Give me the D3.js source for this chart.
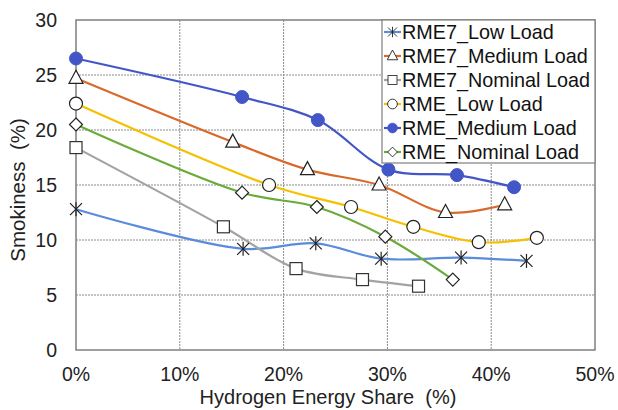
<!DOCTYPE html>
<html>
  <head>
    <meta charset="utf-8"/>
    <style>
body {
  margin: 0;
  background: #fff;
}
svg {
  font-family: "Liberation Sans", Arial, sans-serif;
}
    </style>
  </head>
  <body>
    <svg id="chart" width="618" height="410"></svg>
    <script src="https://cdnjs.cloudflare.com/ajax/libs/d3/7.8.5/d3.min.js"></script>
    <script>
// hydrogen share (%) / smokiness (%) per series
const rme7LowX = [0, 16.1, 23.1, 29.4, 37.1, 43.4];
const rme7LowY = [12.8, 9.2, 9.7, 8.3, 8.4, 8.1];
const rme7MedX = [0, 15.1, 22.3, 29.2, 35.6, 41.3];
const rme7MedY = [24.7, 18.9, 16.4, 15.0, 12.5, 13.2];
const rme7NomX = [0, 14.2, 21.2, 27.6, 33.0];
const rme7NomY = [18.4, 11.2, 7.4, 6.4, 5.8];
const rmeLowX = [0, 18.6, 26.5, 32.5, 38.8, 44.4];
const rmeLowY = [22.4, 15.0, 13.0, 11.2, 9.8, 10.2];
const rmeMedX = [0, 16.0, 23.3, 30.1, 36.7, 42.2];
const rmeMedY = [26.5, 23.0, 20.9, 16.4, 15.9, 14.8];
const rmeNomX = [0, 16.0, 23.2, 29.8, 36.3];
const rmeNomY = [20.5, 14.3, 13.0, 10.3, 6.4];

const xTicks = [0, 10, 20, 30, 40, 50];
const yTicks = [0, 5, 10, 15, 20, 25, 30];

const series = [
  { name: "RME7_Low Load", xs: rme7LowX, ys: rme7LowY, color: "#5b8bdb", marker: "star" },
  { name: "RME7_Medium Load", xs: rme7MedX, ys: rme7MedY, color: "#d9692b", marker: "triangle" },
  { name: "RME7_Nominal Load", xs: rme7NomX, ys: rme7NomY, color: "#a3a3a3", marker: "square" },
  { name: "RME_Low Load", xs: rmeLowX, ys: rmeLowY, color: "#f5c000", marker: "circle" },
  { name: "RME_Medium Load", xs: rmeMedX, ys: rmeMedY, color: "#4356c8", marker: "dot" },
  { name: "RME_Nominal Load", xs: rmeNomX, ys: rmeNomY, color: "#6aab3b", marker: "diamond" }
];

const svg = d3.select("#chart");
const pLeft = 76, pRight = 595, pTop = 20, pBottom = 350;

const x = d3.scaleLinear().domain([0, 50]).range([pLeft, pRight]);
const y = d3.scaleLinear().domain([0, 30]).range([pBottom, pTop]);

// grid
svg.append("g")
  .selectAll("line")
  .data(yTicks.slice(1, -1))
  .join("line")
    .attr("x1", pLeft).attr("x2", pRight)
    .attr("y1", d => y(d)).attr("y2", d => y(d))
    .attr("stroke", "#8a8a8a")
    .attr("stroke-width", 1)
    .attr("stroke-dasharray", "2,1");
svg.append("g")
  .selectAll("line")
  .data(xTicks.slice(1, -1))
  .join("line")
    .attr("x1", d => x(d)).attr("x2", d => x(d))
    .attr("y1", pTop).attr("y2", pBottom)
    .attr("stroke", "#8a8a8a")
    .attr("stroke-width", 1)
    .attr("stroke-dasharray", "2,1");

svg.append("rect")
  .attr("x", pLeft).attr("y", pTop)
  .attr("width", pRight - pLeft).attr("height", pBottom - pTop)
  .attr("fill", "none")
  .attr("stroke", "#7f7f7f")
  .attr("stroke-width", 1.5);

// tick labels
svg.append("g")
  .selectAll("text")
  .data(yTicks)
  .join("text")
    .attr("x", 57)
    .attr("y", d => y(d) + 7)
    .attr("text-anchor", "end")
    .attr("font-size", 19.5)
    .attr("fill", "#222")
    .text(d => d);
svg.append("g")
  .selectAll("text")
  .data(xTicks)
  .join("text")
    .attr("x", d => x(d))
    .attr("y", 381)
    .attr("text-anchor", "middle")
    .attr("font-size", 19.5)
    .attr("fill", "#222")
    .text(d => d + "%");

svg.append("text")
  .attr("x", 328).attr("y", 404)
  .attr("text-anchor", "middle")
  .attr("font-size", 20)
  .attr("fill", "#222")
  .attr("xml:space", "preserve")
  .text("Hydrogen Energy Share  (%)");
svg.append("text")
  .attr("transform", "translate(25,190) rotate(-90)")
  .attr("text-anchor", "middle")
  .attr("font-size", 20.5)
  .attr("fill", "#222")
  .attr("xml:space", "preserve")
  .text("Smokiness  (%)");

// lines
const line = d3.line()
  .x(d => x(d[0]))
  .y(d => y(d[1]))
  .curve(d3.curveCatmullRom.alpha(0.5));

series.forEach(s => {
  s.pts = s.xs.map((v, i) => [v, s.ys[i]]);
  svg.append("path")
    .attr("d", line(s.pts))
    .attr("fill", "none")
    .attr("stroke", s.color)
    .attr("stroke-width", 2.2);
});

function drawMarker(g, kind, cx, cy, color) {
  const k = g.append("g").attr("transform", `translate(${cx},${cy})`);
  if (kind === "star") {
    [[-6, -6, 6, 6], [-6, 6, 6, -6], [0, -7, 0, 7]].forEach(l => {
      k.append("line")
        .attr("x1", l[0]).attr("y1", l[1]).attr("x2", l[2]).attr("y2", l[3])
        .attr("stroke", "#222").attr("stroke-width", 1.2);
    });
  } else if (kind === "triangle") {
    k.append("path").attr("d", "M0,-8L7,5L-7,5Z")
      .attr("fill", "#fff").attr("stroke", "#222").attr("stroke-width", 1.2);
  } else if (kind === "square") {
    k.append("rect").attr("x", -6).attr("y", -6).attr("width", 12).attr("height", 12)
      .attr("fill", "#fff").attr("stroke", "#333").attr("stroke-width", 1.2);
  } else if (kind === "circle") {
    k.append("circle").attr("r", 6.5)
      .attr("fill", "#fff").attr("stroke", "#222").attr("stroke-width", 1.2);
  } else if (kind === "dot") {
    k.append("circle").attr("r", 6.5)
      .attr("fill", color).attr("stroke", color);
  } else if (kind === "diamond") {
    k.append("path").attr("d", "M0,-6.5L6.5,0L0,6.5L-6.5,0Z")
      .attr("fill", "#fff").attr("stroke", "#222").attr("stroke-width", 1.2);
  }
}

series.forEach(s => {
  const g = svg.append("g");
  s.pts.forEach(p => drawMarker(g, s.marker, x(p[0]), y(p[1]), s.color));
});

// legend
const lg = svg.append("g");
lg.append("rect")
  .attr("x", 382).attr("y", 20)
  .attr("width", 213).attr("height", 143)
  .attr("fill", "#fff")
  .attr("stroke", "#7f7f7f")
  .attr("stroke-width", 1.2);

series.forEach((s, i) => {
  const ly = 32 + i * 24;
  lg.append("line")
    .attr("x1", 384).attr("x2", 401)
    .attr("y1", ly).attr("y2", ly)
    .attr("stroke", s.color).attr("stroke-width", 2.2);
  const m = lg.append("g").attr("transform", `translate(392.5,${ly}) scale(0.75)`);
  drawMarker(m, s.marker, 0, 0, s.color);
  lg.append("text")
    .attr("x", 402).attr("y", ly + 7)
    .attr("font-size", 19.8)
    .attr("fill", "#111")
    .text(s.name);
});
    </script>
  </body>
</html>
